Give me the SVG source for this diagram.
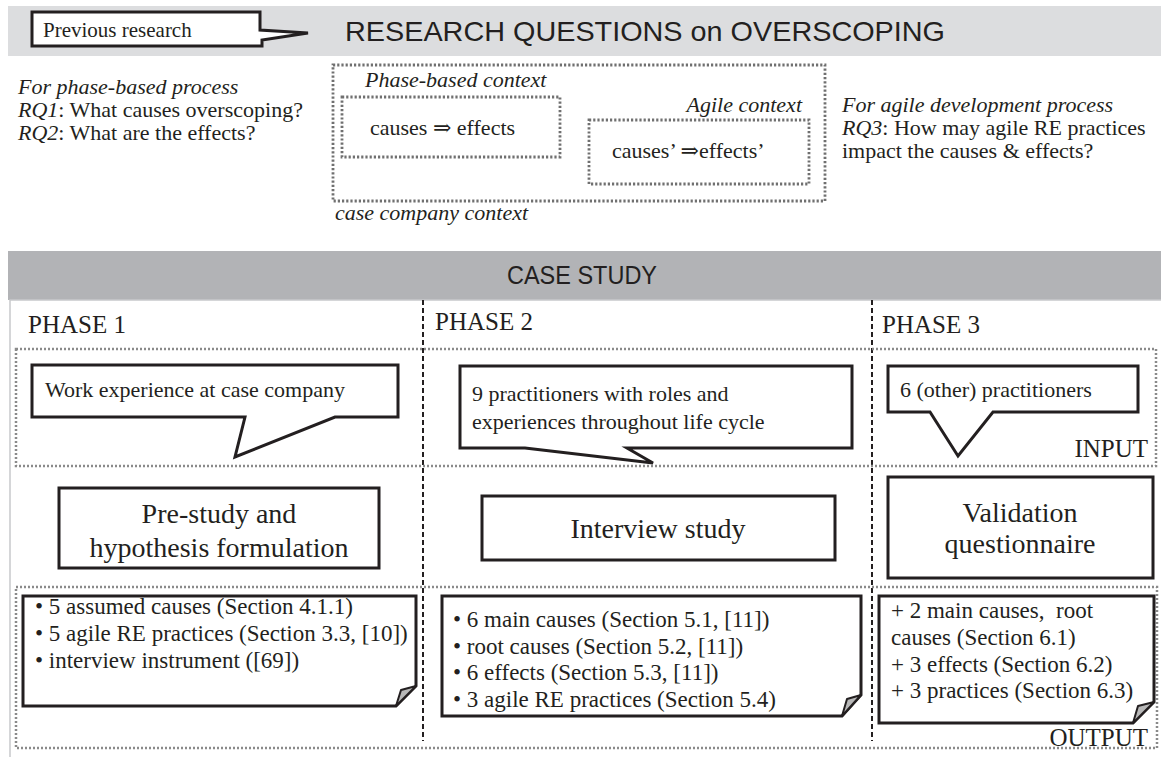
<svg xmlns="http://www.w3.org/2000/svg" width="1161" height="757" viewBox="0 0 1161 757" font-family="'Liberation Serif', 'Times New Roman', Times, 'DejaVu Serif', serif">
<style>
text{font-family:'Liberation Serif','Times New Roman',Times,'DejaVu Serif',serif;fill:#231f20}
text.sans{font-family:'Liberation Sans',Arial,Helvetica,sans-serif}
.it{font-style:italic}
.t22{font-size:22px}
.t23{font-size:23px}
.t25{font-size:25px}
.t28{font-size:28px}
.box{fill:#fff;stroke:#231f20;stroke-width:3;stroke-linejoin:miter}
.dot{fill:none;stroke:#8a8a8a;stroke-width:2.5;stroke-dasharray:2 2}
.dotd{fill:none;stroke:#707070;stroke-width:2.8;stroke-dasharray:2.2 2}
.sep{stroke:#231f20;stroke-width:2;stroke-dasharray:5 3}
.fold{fill:#b8b8b8;stroke:#231f20;stroke-width:2;stroke-linejoin:round}
</style>
<rect width="1161" height="757" fill="#fff"/>

<!-- top banner -->
<g id="rq-banner">
<rect x="8" y="6" width="1153" height="50" fill="#dcdddf"/>
<text class="sans" x="345" y="41" font-size="28" textLength="600" lengthAdjust="spacingAndGlyphs">RESEARCH QUESTIONS on OVERSCOPING</text>
</g>
<g id="previous-research">
<path class="box" d="M32,12 H260 V30 L308,33 L262,40 V46 H32 Z"/>
<text x="43" y="37" font-size="21">Previous research</text>
</g>

<!-- left RQs -->
<g id="rq-phase">
<text class="it t22" x="18" y="94">For phase-based process</text>
<text class="t22" x="18" y="117"><tspan class="it">RQ1</tspan>: What causes overscoping?</text>
<text class="t22" x="18" y="140"><tspan class="it">RQ2</tspan>: What are the effects?</text>
</g>

<!-- contexts -->
<g id="case-company-context">
<rect class="dotd" x="333" y="65" width="492" height="136"/>
<text class="it t22" x="335" y="220">case company context</text>
</g>
<g id="phase-based-context">
<text class="it t22" x="365" y="87">Phase-based context</text>
<rect class="dotd" x="342" y="97" width="218" height="60"/>
<text class="t22" x="370" y="135">causes ⇒ effects</text>
</g>
<g id="agile-context">
<text class="it t22" x="802" y="112" text-anchor="end">Agile context</text>
<rect class="dotd" x="589" y="120" width="220" height="64"/>
<text class="t22" x="612" y="158">causes’ ⇒effects’</text>
</g>

<!-- right RQ -->
<g id="rq-agile">
<text class="it t22" x="842" y="112">For agile development process</text>
<text class="t22" x="842" y="135"><tspan class="it">RQ3</tspan>: How may agile RE practices</text>
<text class="t22" x="842" y="158">impact the causes &amp; effects?</text>
</g>

<!-- case study -->
<g id="case-study">
<rect x="8" y="251" width="1153" height="49" fill="#b2b3b6"/>
<text class="sans" x="582" y="284" font-size="25" text-anchor="middle" textLength="150" lengthAdjust="spacingAndGlyphs">CASE STUDY</text>
<rect x="10" y="300" width="1160" height="470" fill="none" stroke="#c8c9cb" stroke-width="1.5"/>
</g>

<g id="connectors">
<line class="sep" x1="423" y1="300" x2="423" y2="741"/>
<line class="sep" x1="872" y1="300" x2="872" y2="741"/>
</g>

<g id="input-area">
<rect class="dot" x="16" y="349" width="1140" height="117"/>
<text class="t25" x="1148" y="457" text-anchor="end">INPUT</text>
</g>
<g id="output-area">
<rect class="dot" x="16" y="587" width="1141" height="161"/>
<text class="t25" x="1148" y="746" text-anchor="end">OUTPUT</text>
</g>

<g id="phase1-label"><text class="t25" x="28" y="333">PHASE 1</text></g>
<g id="phase2-label"><text class="t25" x="435" y="330">PHASE 2</text></g>
<g id="phase3-label"><text class="t25" x="882" y="333">PHASE 3</text></g>

<!-- callouts -->
<g id="input1">
<path class="box" d="M32,365 H398 V417 H335 L235,457 L245,417 H32 Z"/>
<text class="t22" x="45" y="397">Work experience at case company</text>
</g>
<g id="input2">
<path class="box" d="M460,366 H852 V448 H627 L653,463 L525,448 H460 Z"/>
<text class="t22" x="472" y="401">9 practitioners with roles and</text>
<text class="t22" x="472" y="429">experiences throughout life cycle</text>
</g>
<g id="input3">
<path class="box" d="M888,366 H1138 V412 H993 L958,456 L930,412 H888 Z"/>
<text class="t22" x="900" y="397">6 (other) practitioners</text>
</g>

<!-- process boxes -->
<g id="prestudy">
<rect class="box" x="59" y="488" width="320" height="80"/>
<text class="t28" x="219" y="523" text-anchor="middle">Pre-study and</text>
<text class="t28" x="219" y="557" text-anchor="middle">hypothesis formulation</text>
</g>
<g id="interview">
<rect class="box" x="482" y="496" width="353" height="64"/>
<text class="t28" x="658" y="538" text-anchor="middle">Interview study</text>
</g>
<g id="validation">
<rect class="box" x="888" y="477" width="265" height="101"/>
<text class="t28" x="1020" y="522" text-anchor="middle">Validation</text>
<text class="t28" x="1020" y="553" text-anchor="middle">questionnaire</text>
</g>

<!-- output notes -->
<g id="output1">
<path class="box" d="M23,596 H416 V686 L396,706 H23 Z"/>
<path class="fold" d="M396,706 L401,690 L416,686 Z"/>
<text class="t23" x="35" y="614">• 5 assumed causes (Section 4.1.1)</text>
<text class="t23" x="35" y="641">• 5 agile RE practices (Section 3.3, [10])</text>
<text class="t23" x="35" y="668">• interview instrument ([69])</text>
</g>
<g id="output2">
<path class="box" d="M442,596 H861 V695 L842,716 H442 Z"/>
<path class="fold" d="M842,716 L847,699 L861,695 Z"/>
<text class="t23" x="453" y="627">• 6 main causes (Section 5.1, [11])</text>
<text class="t23" x="453" y="654">• root causes (Section 5.2, [11])</text>
<text class="t23" x="453" y="680">• 6 effects (Section 5.3, [11])</text>
<text class="t23" x="453" y="707">• 3 agile RE practices (Section 5.4)</text>
</g>
<g id="output3">
<path class="box" d="M879,596 H1154 V702 L1133,723 H879 Z"/>
<path class="fold" d="M1133,723 L1138,706 L1154,702 Z"/>
<text class="t23" x="891" y="618">+ 2 main causes,&#160; root</text>
<text class="t23" x="891" y="645">causes (Section 6.1)</text>
<text class="t23" x="891" y="672">+ 3 effects (Section 6.2)</text>
<text class="t23" x="891" y="698">+ 3 practices (Section 6.3)</text>
</g>
</svg>
